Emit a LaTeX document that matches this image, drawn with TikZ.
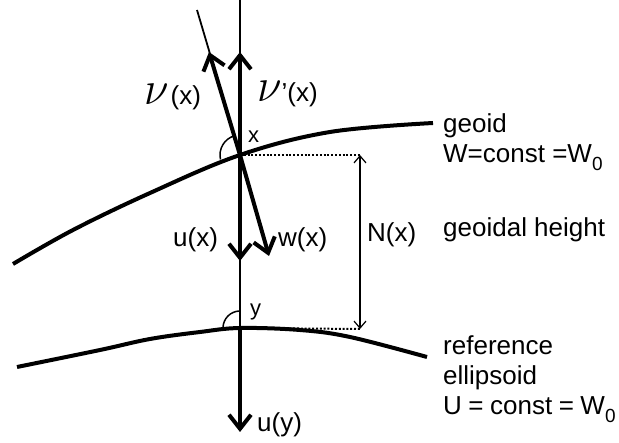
\documentclass[tikz,border=0pt]{standalone}
\usepackage{fontspec}
\setmainfont{Liberation Sans}
\usetikzlibrary{arrows.meta}
\newcommand{\nusym}{\scalebox{1.8}[1.9]{$\nu$}}
\begin{document}
\begin{tikzpicture}[x=1pt,y=-1pt,
  curve/.style={line width=4pt},
  bigarrow/.style={line width=4pt,-{Straight Barb[length=14pt,width=22pt]}},
  thinline/.style={line width=1.5pt},
  dimarrow/.style={line width=1.2pt,{Straight Barb[length=7pt,width=12pt]}-{Straight Barb[length=7pt,width=12pt]}},
  dotline/.style={line width=2pt,dash pattern=on 2pt off 1.8pt},
  angmark/.style={line width=1.5pt},
  lbl/.style={inner sep=0pt,anchor=base west,font=\fontsize{26}{30}\selectfont},
  slbl/.style={inner sep=0pt,anchor=base west,font=\fontsize{22}{26}\selectfont}]
\useasboundingbox (0,0) rectangle (619,443);
% key points
\coordinate (X) at (240,155);
\coordinate (Y) at (240,328);
\coordinate (vtop) at (240,0);
\coordinate (vbot) at (240,430);
\coordinate (ttop) at (197,10);
\coordinate (nutip) at (209,52);
\coordinate (nuptip) at (240,52);
\coordinate (uxtip) at (240,261);
\coordinate (uytip) at (240,432);
\coordinate (wtip) at (269,256);
\coordinate (N1) at (360,155);
\coordinate (N2) at (360,329);
% surfaces
\draw[curve] plot[smooth,tension=0.6] coordinates {(13,264) (73,230) (150,193) (240,155) (330,132) (433,123)};
\draw[curve] plot[smooth,tension=0.6] coordinates {(17,367) (100,350) (150,339) (200,332) (240,328) (300,330) (350,337) (427,357)};
% thin lines
\draw[thinline] (vtop) -- (vbot);
\draw[line width=1.8pt] (ttop) -- (X);
% dotted
\draw[dotline] (X) -- (N1);
\draw[dotline] (Y) -- (N2);
\draw[dimarrow] (N1) -- (N2);
% angle marks
\draw[angmark] (X) ++(167:20) arc[start angle=167,end angle=254,radius=20];
\draw[angmark] (Y) ++(180:17) arc[start angle=180,end angle=270,radius=17];
% thick arrows
\draw[bigarrow] (X) -- (nutip);
\draw[bigarrow] (X) -- (nuptip);
\draw[bigarrow] (X) -- (uxtip);
\draw[bigarrow] (X) -- (wtip);
\draw[bigarrow] (Y) -- (uytip);
% labels
\node[lbl] (lnu) at (144,105) {\nusym\hspace{2pt}(x)};
\node[lbl] (lnup) at (257,102) {\nusym’(x)};
\node[slbl] (lx) at (248,143) {x};
\node[slbl] (ly) at (250,316) {y};
\node[lbl] (lux) at (173,247) {u(x)};
\node[lbl] (lwx) at (278,247) {w(x)};
\node[lbl] (lNx) at (367,242) {N(x)};
\node[lbl] (luy) at (257,432) {u(y)};
\node[lbl] (lgeoid) at (443,133) {geoid};
\node[lbl] (lW) at (443,163) {W=const =W\raisebox{-8pt}{\fontsize{19}{19}\selectfont 0}};
\node[lbl] (lgh) at (443,237) {geoidal height};
\node[lbl] (lref) at (443,355) {reference};
\node[lbl] (lell) at (443,385) {ellipsoid};
\node[lbl] (lU) at (443,415) {U\hspace{6.5pt}=\hspace{6.5pt}const\hspace{6.5pt}=\hspace{6.5pt}W\raisebox{-8pt}{\fontsize{19}{19}\selectfont 0}};
\end{tikzpicture}
\end{document}
